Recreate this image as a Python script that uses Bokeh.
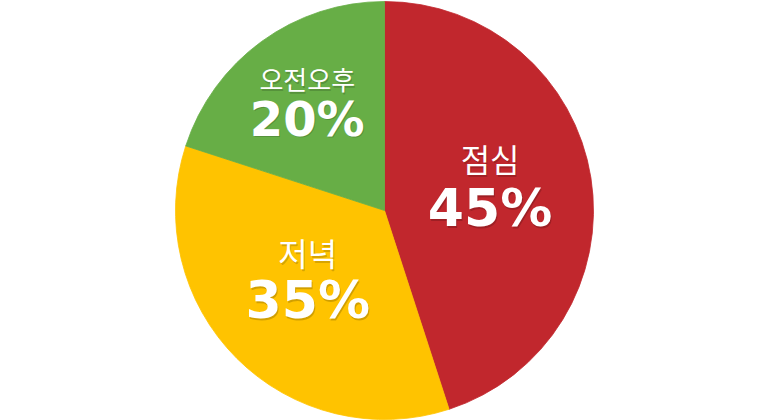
import numpy as np
from bokeh.plotting import figure
from bokeh.models import Range1d, ColumnDataSource
from bokeh.core.properties import value
from bokeh.embed import file_html
from bokeh.resources import INLINE

# ---- data ----
categories = ["점심", "저녁", "오전오후"]
shares = [45, 35, 20]
pct_labels = ["45%", "35%", "20%"]

# ---- styling / layout ----
colors = ["#C1272D", "#FFC300", "#67AE46"]
W, H = 768, 420
R = 209
label_r = [109, 101, 136]
label_nudge_deg = [5.4, -4.4, -1.4]
line_gap = [25, 24, 20]
name_sizes = ["32px", "32px", "26px"]
pct_sizes = ["52px", "52px", "48px"]

frac = np.array(shares, dtype=float) / sum(shares)
cum = np.concatenate([[0.0], np.cumsum(frac)])
start = np.pi / 2 - cum[:-1] * 2 * np.pi
end = np.pi / 2 - cum[1:] * 2 * np.pi
mid = (start + end) / 2 + np.radians(label_nudge_deg)
lx = np.array(label_r) * np.cos(mid)
ly = np.array(label_r) * np.sin(mid)

src = ColumnDataSource(dict(
    start=start, end=end, color=colors,
    x=lx, y_name=ly + np.array(line_gap), y_pct=ly - np.array(line_gap),
    name=categories, pct=pct_labels,
    name_size=name_sizes, pct_size=pct_sizes,
))

p = figure(width=W, height=H, x_range=Range1d(-W / 2, W / 2), y_range=Range1d(-H / 2, H / 2),
           output_backend="svg", toolbar_location=None, min_border=0)
p.axis.visible = False
p.grid.visible = False
p.outline_line_color = None
p.background_fill_color = "white"
p.border_fill_color = "white"

p.wedge(x=0, y=0, radius=R, start_angle="start", end_angle="end", direction="clock",
        fill_color="color", line_color="color", line_width=0.8, source=src)

# shadows
p.text(x="x", y="y_name", text="name", source=src, text_font=value("Noto Sans CJK KR"),
       text_font_size="name_size", text_align="center", text_baseline="middle",
       text_color="black", text_alpha=0.18, x_offset=1, y_offset=1.5)
p.text(x="x", y="y_pct", text="pct", source=src, text_font=value("DejaVu Sans"),
       text_font_style="bold", text_font_size="pct_size", text_align="center",
       text_baseline="middle", text_color="black", text_alpha=0.18, x_offset=1, y_offset=1.5)
# labels
p.text(x="x", y="y_name", text="name", source=src, text_font=value("Noto Sans CJK KR"),
       text_font_size="name_size", text_align="center", text_baseline="middle",
       text_color="white")
p.text(x="x", y="y_pct", text="pct", source=src, text_font=value("DejaVu Sans"),
       text_font_style="bold", text_font_size="pct_size", text_align="center",
       text_baseline="middle", text_color="white")

open("out.html", "w").write(file_html(p, INLINE))
